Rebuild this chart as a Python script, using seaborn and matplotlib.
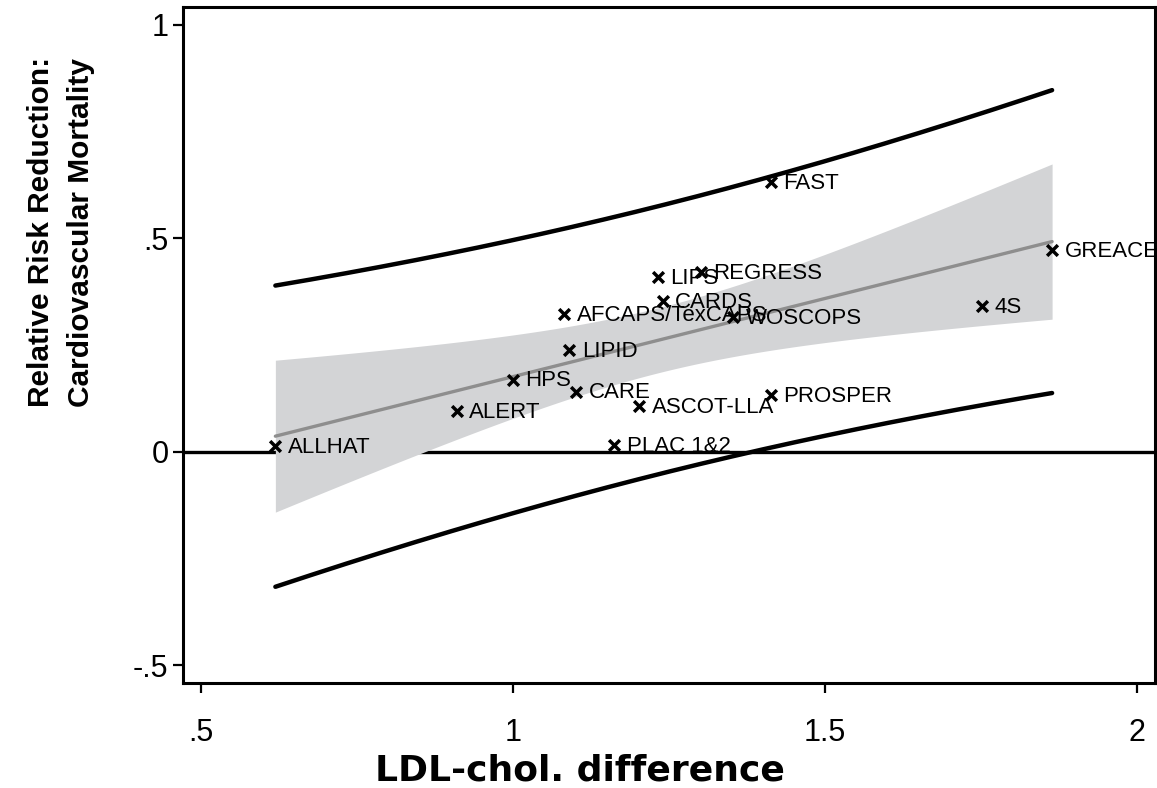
import numpy as np
import pandas as pd
import matplotlib
matplotlib.use("Agg")
import matplotlib.pyplot as plt
import seaborn as sns

# ---- data ----
trials = ["ALLHAT", "ALERT", "HPS", "CARE", "LIPID", "AFCAPS/TexCAPS",
          "PLAC 1&2", "ASCOT-LLA", "LIPS", "CARDS", "REGRESS", "WOSCOPS",
          "FAST", "PROSPER", "4S", "GREACE"]
ldl_diff = [0.619, 0.910, 1.000, 1.101, 1.090, 1.082,
            1.162, 1.202, 1.232, 1.240, 1.301, 1.353,
            1.413, 1.413, 1.752, 1.864]
rrr = [0.014, 0.096, 0.169, 0.141, 0.239, 0.323,
       0.016, 0.106, 0.409, 0.352, 0.422, 0.316,
       0.632, 0.133, 0.342, 0.473]

x_ticks = [0.5, 1.0, 1.5, 2.0]
x_ticklabels = [".5", "1", "1.5", "2"]
y_ticks = [-0.5, 0.0, 0.5, 1.0]
y_ticklabels = ["-.5", "0", ".5", "1"]

sns.set_theme(style="white")
plt.rcParams['font.family'] = ['Liberation Sans', 'DejaVu Sans']
plt.rcParams['text.color'] = 'black'
plt.rcParams['axes.labelcolor'] = 'black'

df = pd.DataFrame({"trial": trials, "ldl": ldl_diff, "rrr": rrr})

# ---- OLS fit with confidence and prediction intervals ----
x = df["ldl"].to_numpy()
y = df["rrr"].to_numpy()
n = len(x)
xm = x.mean()
sxx = ((x - xm) ** 2).sum()
b = ((x - xm) * (y - y.mean())).sum() / sxx
a = y.mean() - b * xm
s = np.sqrt(((y - (a + b * x)) ** 2).sum() / (n - 2))
T_CRIT = 2.1448  # t(0.975, df=14)
xg = np.linspace(x.min(), x.max(), 200)
fit = a + b * xg
se_mean = s * np.sqrt(1 / n + (xg - xm) ** 2 / sxx)
se_pred = s * np.sqrt(1 + 1 / n + (xg - xm) ** 2 / sxx)
fit_df = pd.DataFrame({"x": xg, "fit": fit,
                       "ci_lo": fit - T_CRIT * se_mean, "ci_hi": fit + T_CRIT * se_mean,
                       "pi_lo": fit - T_CRIT * se_pred, "pi_hi": fit + T_CRIT * se_pred})

fig = plt.figure(figsize=(11.57, 7.88), dpi=100)
ax = fig.add_axes([0.1582, 0.1332, 0.8401, 0.8579])

ax.axhline(0, color="black", lw=2.4, zorder=1)
ax.fill_between(fit_df["x"], fit_df["ci_lo"], fit_df["ci_hi"], color="#d3d4d6", lw=0, zorder=2)
sns.lineplot(data=fit_df, x="x", y="fit", color="#8e8e8e", lw=2.4, ax=ax, zorder=3)
sns.lineplot(data=fit_df, x="x", y="pi_lo", color="black", lw=3.2, ax=ax, zorder=3)
sns.lineplot(data=fit_df, x="x", y="pi_hi", color="black", lw=3.2, ax=ax, zorder=3)
sns.scatterplot(data=df, x="ldl", y="rrr", marker="x", color="black", s=60,
                linewidth=2.5, ax=ax, zorder=5)

for t, xv, yv in zip(trials, ldl_diff, rrr):
    ax.annotate(t, (xv, yv), xytext=(9, -1), textcoords="offset points",
                ha="left", va="center", fontsize=16, color="black", zorder=6,
                annotation_clip=False)

ax.set_xlim(0.471, 2.029)
ax.set_ylim(-0.542, 1.042)
ax.set_xticks(x_ticks)
ax.set_xticklabels(x_ticklabels)
ax.set_yticks(y_ticks)
ax.set_yticklabels(y_ticklabels)
ax.tick_params(axis="both", which="major", direction="out", length=7.5, width=1.6,
               color="black", labelsize=22, labelcolor="black",
               bottom=True, left=True, top=False, right=False)
ax.tick_params(axis="x", pad=18)
ax.tick_params(axis="y", pad=3)
for sp in ax.spines.values():
    sp.set_visible(True)
    sp.set_color("black")
    sp.set_linewidth(2.2)

ax.set_xlabel("LDL-chol. difference", fontsize=26, fontweight="bold",
              family=['DejaVu Sans'], color="black")
ax.xaxis.set_label_coords((580 - 183) / 972, (683 - 787) / 676)
ax.xaxis.label.set_va("bottom")
ax.set_ylabel("Relative Risk Reduction:\nCardiovascular Mortality", fontsize=21.5,
              fontweight="bold", linespacing=1.55, color="black")
ax.yaxis.set_label_coords((61 - 183) / 972, (683 - 232) / 676)
ax.yaxis.label.set_va("center")

fig.savefig("out.png", dpi=100)
